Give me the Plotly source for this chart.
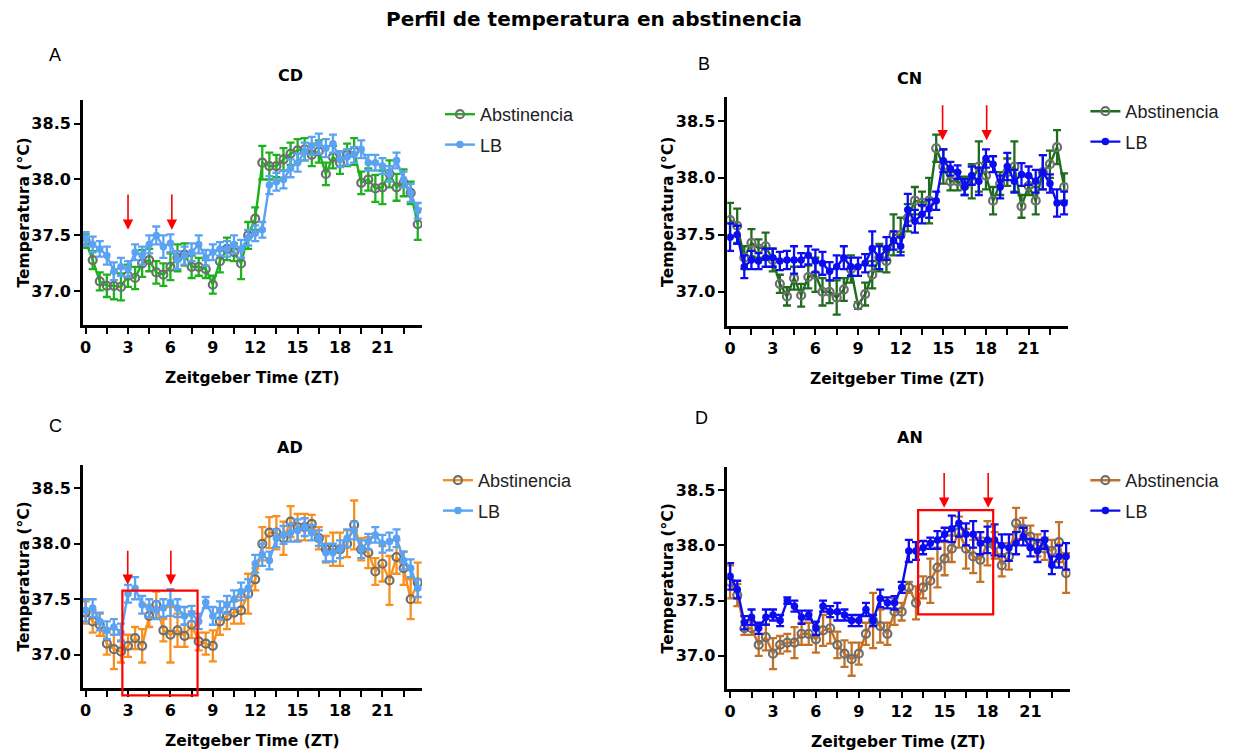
import plotly.graph_objects as go

W, H = 1239, 751

zt = [0, 0.5, 1, 1.5, 2, 2.5, 3, 3.5, 4, 4.5, 5, 5.5, 6, 6.5, 7, 7.5, 8, 8.5, 9, 9.5,
      10, 10.5, 11, 11.5, 12, 12.5, 13, 13.5, 14, 14.5, 15, 15.5, 16, 16.5, 17, 17.5,
      18, 18.5, 19, 19.5, 20, 20.5, 21, 21.5, 22, 22.5, 23, 23.5]

# ---- Panel A: CD ----
cd_abs = [37.45, 37.28, 37.09, 37.05, 37.05, 37.04, 37.14, 37.12, 37.25, 37.28, 37.17, 37.15,
          37.22, 37.30, 37.33, 37.22, 37.22, 37.20, 37.06, 37.27, 37.38, 37.35, 37.25, 37.50,
          37.65, 38.15, 38.12, 38.12, 38.18, 38.23, 38.26, 38.27, 38.22, 38.25, 38.05, 38.20,
          38.15, 38.22, 38.25, 37.97, 38.00, 37.92, 37.93, 38.05, 37.93, 37.97, 37.88, 37.60]
cd_abs_err = [0.06, 0.08, 0.08, 0.10, 0.12, 0.12, 0.10, 0.10, 0.12, 0.10, 0.10, 0.10,
              0.12, 0.12, 0.10, 0.10, 0.08, 0.08, 0.08, 0.10, 0.10, 0.08, 0.14, 0.12,
              0.10, 0.15, 0.12, 0.10, 0.10, 0.10, 0.10, 0.10, 0.10, 0.10, 0.10, 0.10,
              0.10, 0.10, 0.12, 0.10, 0.10, 0.12, 0.15, 0.12, 0.12, 0.12, 0.10, 0.14]
cd_lb = [37.47, 37.42, 37.38, 37.32, 37.18, 37.22, 37.20, 37.35, 37.32, 37.42, 37.50, 37.40,
         37.43, 37.28, 37.32, 37.35, 37.42, 37.30, 37.35, 37.38, 37.38, 37.42, 37.38, 37.48,
         37.52, 37.55, 37.95, 37.98, 38.00, 38.10, 38.15, 38.25, 38.30, 38.32, 38.28, 38.32,
         38.18, 38.20, 38.22, 38.27, 38.15, 38.15, 38.12, 38.05, 38.17, 38.00, 37.88, 37.72]
cd_lb_err = [0.06, 0.07, 0.07, 0.08, 0.08, 0.08, 0.07, 0.07, 0.08, 0.08, 0.08, 0.10,
             0.08, 0.08, 0.08, 0.08, 0.08, 0.07, 0.07, 0.06, 0.07, 0.08, 0.08, 0.07,
             0.07, 0.07, 0.08, 0.08, 0.08, 0.08, 0.08, 0.08, 0.08, 0.09, 0.08, 0.08,
             0.07, 0.07, 0.07, 0.08, 0.07, 0.07, 0.07, 0.07, 0.07, 0.07, 0.08, 0.07]

# ---- Panel B: CN ----
cn_abs = [37.63, 37.58, 37.30, 37.43, 37.38, 37.40, 37.28, 37.07, 36.96, 37.12, 36.97, 37.13,
          37.15, 37.00, 37.00, 36.95, 37.02, 37.20, 36.88, 36.98, 37.15, 37.30, 37.27, 37.50,
          37.50, 37.65, 37.80, 37.78, 37.80, 38.26, 38.10, 37.97, 37.97, 37.93, 37.97, 38.10,
          38.02, 37.80, 37.95, 38.05, 38.10, 37.75, 37.93, 37.80, 38.05, 38.12, 38.27, 37.92]
cn_abs_err = [0.15, 0.15, 0.10, 0.12, 0.08, 0.12, 0.10, 0.08, 0.08, 0.10, 0.10, 0.10,
              0.15, 0.12, 0.10, 0.15, 0.10, 0.12, 0.03, 0.10, 0.12, 0.12, 0.10, 0.18,
              0.15, 0.12, 0.12, 0.10, 0.20, 0.12, 0.15, 0.08, 0.08, 0.08, 0.15, 0.22,
              0.12, 0.12, 0.10, 0.12, 0.22, 0.10, 0.08, 0.12, 0.15, 0.12, 0.15, 0.12]
cn_lb = [37.48, 37.50, 37.22, 37.28, 37.27, 37.30, 37.30, 37.27, 37.28, 37.28, 37.28, 37.32,
         37.27, 37.25, 37.18, 37.22, 37.30, 37.22, 37.22, 37.25, 37.38, 37.30, 37.38, 37.45,
         37.40, 37.72, 37.62, 37.68, 37.73, 37.80, 38.15, 38.08, 38.05, 37.92, 38.02, 37.97,
         38.17, 38.12, 37.92, 38.10, 37.97, 38.03, 38.02, 37.97, 38.05, 37.95, 37.78, 37.78]
cn_lb_err = [0.12, 0.08, 0.10, 0.08, 0.07, 0.08, 0.08, 0.08, 0.08, 0.12, 0.06, 0.08,
             0.10, 0.10, 0.08, 0.10, 0.10, 0.08, 0.08, 0.08, 0.15, 0.10, 0.10, 0.08,
             0.08, 0.14, 0.10, 0.08, 0.08, 0.08, 0.10, 0.06, 0.06, 0.07, 0.08, 0.12,
             0.08, 0.07, 0.10, 0.12, 0.10, 0.10, 0.08, 0.10, 0.15, 0.08, 0.12, 0.10]

# ---- Panel C: AD ----
ad_abs = [37.38, 37.30, 37.27, 37.10, 37.05, 37.03, 37.08, 37.15, 37.08, 37.35, 37.45, 37.22,
          37.18, 37.22, 37.17, 37.27, 37.12, 37.10, 37.08, 37.30, 37.35, 37.38, 37.40, 37.55,
          37.68, 38.00, 38.10, 38.10, 38.05, 38.20, 38.15, 38.15, 38.18, 38.05, 37.95, 37.95,
          37.95, 38.00, 38.17, 37.95, 37.92, 37.75, 37.82, 37.67, 37.88, 37.78, 37.50, 37.65]
ad_abs_err = [0.10, 0.10, 0.10, 0.10, 0.18, 0.10, 0.10, 0.10, 0.15, 0.10, 0.12, 0.10,
              0.25, 0.15, 0.10, 0.12, 0.08, 0.10, 0.14, 0.12, 0.12, 0.10, 0.12, 0.18,
              0.10, 0.15, 0.14, 0.15, 0.15, 0.14, 0.12, 0.12, 0.08, 0.10, 0.12, 0.15,
              0.15, 0.12, 0.22, 0.10, 0.14, 0.12, 0.16, 0.22, 0.15, 0.15, 0.18, 0.18]
ad_lb = [37.40, 37.42, 37.30, 37.22, 37.25, 37.20, 37.55, 37.60, 37.45, 37.42, 37.40, 37.42,
         37.47, 37.42, 37.35, 37.37, 37.30, 37.47, 37.35, 37.40, 37.45, 37.50, 37.57, 37.60,
         37.82, 37.90, 37.85, 38.05, 38.08, 38.10, 38.12, 38.15, 38.10, 38.05, 37.92, 37.92,
         37.95, 38.05, 38.12, 37.95, 38.02, 38.08, 38.00, 38.02, 38.05, 37.85, 37.78, 37.60]
ad_lb_err = [0.10, 0.08, 0.08, 0.08, 0.07, 0.08, 0.08, 0.10, 0.08, 0.08, 0.08, 0.08,
             0.12, 0.08, 0.08, 0.07, 0.07, 0.05, 0.08, 0.08, 0.08, 0.08, 0.08, 0.08,
             0.08, 0.10, 0.08, 0.08, 0.08, 0.08, 0.10, 0.08, 0.07, 0.07, 0.08, 0.08,
             0.08, 0.08, 0.08, 0.08, 0.07, 0.07, 0.08, 0.08, 0.08, 0.08, 0.08, 0.08]

# ---- Panel D: AN ----
an_abs = [37.67, 37.55, 37.25, 37.25, 37.10, 37.17, 37.02, 37.10, 37.12, 37.12, 37.20, 37.20,
          37.15, 37.23, 37.25, 37.10, 37.02, 36.97, 37.02, 37.20, 37.32, 37.27, 37.20, 37.40,
          37.40, 37.62, 37.48, 37.62, 37.68, 37.80, 37.88, 37.97, 38.12, 37.97, 37.90, 37.87,
          38.02, 38.00, 37.82, 37.90, 38.20, 38.15, 38.08, 38.00, 37.97, 37.95, 38.03, 37.75]
an_abs_err = [0.15, 0.10, 0.06, 0.06, 0.10, 0.12, 0.14, 0.08, 0.08, 0.14, 0.10, 0.10,
              0.12, 0.14, 0.14, 0.12, 0.12, 0.15, 0.10, 0.10, 0.25, 0.15, 0.10, 0.12,
              0.08, 0.05, 0.15, 0.10, 0.20, 0.18, 0.15, 0.12, 0.14, 0.18, 0.15, 0.20,
              0.20, 0.12, 0.10, 0.12, 0.14, 0.10, 0.10, 0.10, 0.10, 0.10, 0.18, 0.18]
an_lb = [37.72, 37.60, 37.30, 37.35, 37.25, 37.35, 37.37, 37.32, 37.50, 37.45, 37.35, 37.37,
         37.25, 37.45, 37.40, 37.40, 37.37, 37.32, 37.32, 37.42, 37.32, 37.52, 37.48, 37.48,
         37.62, 37.95, 37.95, 37.98, 38.02, 38.05, 38.10, 38.15, 38.20, 38.10, 38.10, 38.02,
         38.05, 38.05, 38.00, 37.98, 38.02, 38.08, 37.98, 37.95, 38.05, 37.82, 37.90, 37.90]
an_lb_err = [0.12, 0.08, 0.06, 0.07, 0.05, 0.07, 0.05, 0.05, 0.03, 0.05, 0.06, 0.04,
             0.06, 0.05, 0.05, 0.08, 0.05, 0.05, 0.05, 0.06, 0.05, 0.08, 0.05, 0.06,
             0.05, 0.10, 0.08, 0.06, 0.05, 0.08, 0.06, 0.12, 0.12, 0.10, 0.12, 0.10,
             0.12, 0.14, 0.10, 0.12, 0.10, 0.08, 0.08, 0.10, 0.08, 0.08, 0.10, 0.12]

y_ticks = [37.0, 37.5, 38.0, 38.5]
x_ticks = [0, 1.5, 3, 4.5, 6, 7.5, 9, 10.5, 12, 13.5, 15, 16.5, 18, 19.5, 21, 22.5]
x_tick_text = ["0", "", "3", "", "6", "", "9", "", "12", "", "15", "", "18", "", "21", ""]

GRAY = "#6e6e6e"
BOLD = "DejaVu Sans"
REG = "Liberation Sans"

# page-pixel layout of each panel: (x0, x1) and (top, bottom)
panels = [
    dict(key="", title="CD", letter="A", xpx=(80, 420), ypx=(100, 325),
         abs_=cd_abs, abs_err=cd_abs_err, lb=cd_lb, lb_err=cd_lb_err,
         c_abs="#1cb21c", c_lb="#5aa2f2",
         ttl=(288, 75), let=(52, 55), leg=(438, 96),
         arrows=[(3.0, 37.55, 37.88), (6.1, 37.55, 37.88)]),
    dict(key="2", title="CN", letter="B", xpx=(726, 1068), ypx=(97, 326),
         abs_=cn_abs, abs_err=cn_abs_err, lb=cn_lb, lb_err=cn_lb_err,
         c_abs="#1f6b1f", c_lb="#0c0cf0",
         ttl=(909, 79), let=(703, 64), leg=(1085, 93),
         arrows=[(14.95, 38.33, 38.65), (18.05, 38.33, 38.65)]),
    dict(key="3", title="AD", letter="C", xpx=(80, 420), ypx=(465, 688),
         abs_=ad_abs, abs_err=ad_abs_err, lb=ad_lb, lb_err=ad_lb_err,
         c_abs="#f7901e", c_lb="#5aa2f2",
         ttl=(288, 447), let=(53, 426), leg=(436, 462),
         arrows=[(2.98, 37.63, 37.95), (6.03, 37.63, 37.95)]),
    dict(key="4", title="AN", letter="D", xpx=(726, 1070), ypx=(467, 689),
         abs_=an_abs, abs_err=an_abs_err, lb=an_lb, lb_err=an_lb_err,
         c_abs="#c47128", c_lb="#0c0cf0",
         ttl=(909, 437), let=(700, 418), leg=(1085, 462),
         arrows=[(14.97, 38.34, 38.67), (18.05, 38.34, 38.67)]),
]


def px(x):
    return x / W


def py(y):
    return 1 - y / H


fig = go.Figure()
annotations = []
shapes = []
layout_extra = {}

for p in panels:
    k = p["key"]
    xa, ya = "x" + k, "y" + k
    leg = "legend" + k
    fig.add_trace(go.Scatter(
        x=zt, y=p["abs_"], name="Abstinencia", mode="lines+markers",
        xaxis=xa, yaxis=ya, legend=leg, legendgroup="abs" + k,
        line=dict(color=p["c_abs"], width=2.4),
        marker=dict(symbol="circle-open", size=8, color=GRAY, line=dict(width=2.2, color=GRAY)),
        error_y=dict(type="data", array=p["abs_err"], color=p["c_abs"], thickness=2.3, width=4),
    ))
    fig.add_trace(go.Scatter(
        x=zt, y=p["lb"], name="LB", mode="lines+markers",
        xaxis=xa, yaxis=ya, legend=leg, legendgroup="lb" + k,
        line=dict(color=p["c_lb"], width=2.4),
        marker=dict(symbol="circle", size=7.5, color=p["c_lb"]),
        error_y=dict(type="data", array=p["lb_err"], color=p["c_lb"], thickness=2.3, width=4),
    ))

    x0, x1 = p["xpx"]
    top, bot = p["ypx"]
    layout_extra["xaxis" + k] = dict(
        domain=[px(x0), px(x1)], anchor=ya, range=[-0.2, 23.8],
        tickvals=x_ticks, ticktext=x_tick_text, ticks="outside", ticklen=6, tickwidth=2,
        tickcolor="black", showline=True, linecolor="black", linewidth=2.5,
        showgrid=False, zeroline=False,
        tickfont=dict(family=BOLD, size=16, color="black", weight="bold"),
    )
    layout_extra["yaxis" + k] = dict(
        domain=[py(bot), py(top)], anchor=xa, range=[36.7, 38.71],
        tickvals=y_ticks, tickformat=".1f", ticks="outside", ticklen=6, tickwidth=2,
        tickcolor="black", showline=True, linecolor="black", linewidth=2.5,
        showgrid=False, zeroline=False,
        tickfont=dict(family=BOLD, size=16, color="black", weight="bold"),
    )
    lx, ly = p["leg"]
    layout_extra[leg] = dict(
        x=px(lx), y=py(ly), xanchor="left", yanchor="top", bgcolor="rgba(0,0,0,0)",
        font=dict(family=REG, size=18, color="#222222"), borderwidth=0,
        traceorder="grouped", tracegroupgap=4,
    )

    # subplot title
    tx, ty = p["ttl"]
    annotations.append(dict(text=p["title"], x=px(tx), y=py(ty), xref="paper", yref="paper",
                            showarrow=False, xanchor="center", yanchor="middle",
                            font=dict(family=BOLD, size=16, color="black", weight="bold")))
    # panel letter
    lx2, ly2 = p["let"]
    annotations.append(dict(text=p["letter"], x=px(lx2), y=py(ly2), xref="paper", yref="paper",
                            showarrow=False, xanchor="center", yanchor="middle",
                            font=dict(family=REG, size=18, color="black")))
    # axis titles
    annotations.append(dict(text="Zeitgeber Time (ZT)", x=px((x0 + x1) / 2), y=py(bot + 53),
                            xref="paper", yref="paper", showarrow=False,
                            xanchor="center", yanchor="middle",
                            font=dict(family=BOLD, size=15.5, color="black", weight="bold")))
    annotations.append(dict(text="Temperatura (°C)", x=px(x0 - 59), y=py((top + bot) / 2),
                            xref="paper", yref="paper", showarrow=False, textangle=-90,
                            xanchor="center", yanchor="middle",
                            font=dict(family=BOLD, size=15.5, color="black", weight="bold")))
    # red arrows
    for (ax_x, tip_y, tail_y) in p["arrows"]:
        annotations.append(dict(text="", x=ax_x, y=tip_y, ax=ax_x, ay=tail_y,
                                xref=xa, yref=ya, axref=xa, ayref=ya,
                                showarrow=True, arrowhead=2, arrowsize=1.3, arrowwidth=1.6,
                                arrowcolor="#ff0000", standoff=0))

# red boxes
shapes.append(dict(type="rect", xref="x3", yref="paper", x0=2.6, x1=7.92,
                   y0=py(695.3), y1=py(590.7), line=dict(color="#ff0000", width=2.2),
                   fillcolor="rgba(0,0,0,0)"))
shapes.append(dict(type="rect", xref="x4", yref="y4", x0=13.15, x1=18.4,
                   y0=37.375, y1=38.32, line=dict(color="#ff0000", width=2.2),
                   fillcolor="rgba(0,0,0,0)"))

annotations.append(dict(text="Perfil de temperatura en abstinencia", x=px(592), y=py(19),
                        xref="paper", yref="paper", showarrow=False,
                        xanchor="center", yanchor="middle",
                        font=dict(family=BOLD, size=20, color="black", weight="bold")))

fig.update_layout(
    width=W, height=H, margin=dict(l=0, r=0, t=0, b=0),
    paper_bgcolor="white", plot_bgcolor="white",
    showlegend=True, annotations=annotations, shapes=shapes,
    **layout_extra,
)

fig.write_html("out.html")
